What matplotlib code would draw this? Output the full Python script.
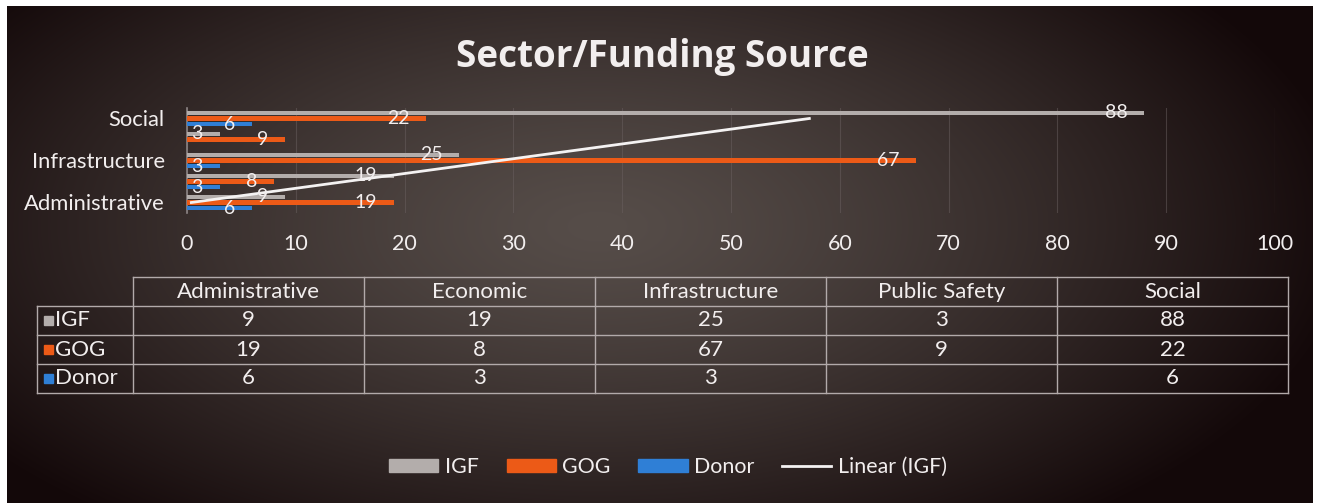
import numpy as np
import matplotlib
matplotlib.use("Agg")
import matplotlib.pyplot as plt
from matplotlib.patches import Patch, Rectangle
from matplotlib.lines import Line2D

plt.rcParams["font.family"] = ["Lato", "DejaVu Sans"]

# ── data ─────────────────────────────────────────────────────────────
sectors = ["Administrative", "Economic", "Infrastructure", "Public Safety", "Social"]
series = ["IGF", "GOG", "Donor"]
igf = [9, 19, 25, 3, 88]
gog = [19, 8, 67, 9, 22]
donor = [6, 3, 3, None, 6]
x_ticks = list(range(0, 101, 10))

COLORS = {"IGF": "#b3adab", "GOG": "#ec5a17", "Donor": "#2f7fd6"}
TXT = "#f2eeee"
W, H = 1325, 503

fig = plt.figure(figsize=(W / 100, H / 100), dpi=100)
fig.patch.set_facecolor("white")

# ── background: dark radial gradient ─────────────────────────────────
bg = fig.add_axes([7 / W, 0, (1313 - 7) / W, (H - 6) / H])
bg.axis("off")
yy, xx = np.mgrid[0:497, 0:1306]
d = np.sqrt(((xx - 590) / 760.0) ** 2 + ((yy - 220) / 380.0) ** 2)
d = np.clip(d, 0, 1)
c_in = np.array([0x56, 0x4d, 0x49]) / 255
c_out = np.array([0x13, 0x08, 0x09]) / 255
t = d[..., None] ** 1.3
img = c_in * (1 - t) + c_out * t
bg.imshow(img, aspect="auto", interpolation="bilinear")

# ── bar chart ────────────────────────────────────────────────────────
ax = fig.add_axes([187 / W, 1 - 213 / H, 1088 / W, 105 / H])
ax.set_facecolor("none")
pos = np.arange(len(sectors))
off = 0.28
bh = 0.2
for vals, o, name in [(igf, off, "IGF"), (gog, 0, "GOG"), (donor, -off, "Donor")]:
    for p, v in zip(pos, vals):
        if v is None:
            continue
        ax.barh(p + o, v, height=bh, color=COLORS[name], zorder=3)
        ax.annotate(str(v), xy=(v, p + o), xytext=(-12, 0), textcoords="offset points",
                    ha="right", va="center", color=TXT, fontsize=14, zorder=5)

# linear trendline for IGF
k, b = np.polyfit(pos, igf, 1)
ax.plot(k * pos + b, pos, color="#f4f2f2", lw=2, zorder=4)

ax.set_xlim(0, 100)
ax.set_ylim(-0.5, 4.5)
ax.set_xticks(x_ticks)
ax.set_xticklabels([str(v) for v in x_ticks])
ax.set_yticks(pos[::2])
ax.set_yticklabels(sectors[::2])
ax.tick_params(axis="y", length=0, pad=16, labelsize=15.8, labelcolor=TXT)
ax.tick_params(axis="x", length=0, pad=15, labelsize=15.4, labelcolor=TXT)
ax.grid(axis="x", color="#6a6060", lw=0.8, alpha=0.5, zorder=0)
for s in ["top", "right", "bottom"]:
    ax.spines[s].set_visible(False)
ax.spines["left"].set_color("#8c8484")
ax.spines["left"].set_linewidth(1.2)

# ── title ────────────────────────────────────────────────────────────
fig.text(662 / W, 1 - 57 / H, "Sector/Funding Source", ha="center", va="center",
         fontsize=26.5, fontweight="bold", color=TXT, family=["Open Sans", "DejaVu Sans"])

# ── data table (pixel coordinates overlay) ───────────────────────────
ov = fig.add_axes([0, 0, 1, 1])
ov.set_xlim(0, W)
ov.set_ylim(H, 0)
ov.axis("off")
ov.patch.set_alpha(0)

LC = "#b2aaaa"
col_x = [133, 364, 595, 826, 1057, 1288]
row_y = [277, 306, 335, 364, 393]
ov.plot([133, 1288], [277, 277], color=LC, lw=1)
for y in row_y[1:]:
    ov.plot([37, 1288], [y, y], color=LC, lw=1)
for x in col_x:
    ov.plot([x, x], [277, 393], color=LC, lw=1)
ov.plot([37, 37], [306, 393], color=LC, lw=1)

FS_T = 16
for i, name in enumerate(sectors):
    cx = (col_x[i] + col_x[i + 1]) / 2
    ov.text(cx, 292, name, ha="center", va="center", color=TXT, fontsize=FS_T)
for r, (name, vals) in enumerate(zip(series, [igf, gog, donor])):
    cy = (row_y[r + 1] + row_y[r + 2]) / 2
    ov.add_patch(Rectangle((44, cy - 4.5), 9, 9, color=COLORS[name]))
    ov.text(55, cy, name, ha="left", va="center", color=TXT, fontsize=FS_T)
    for i, v in enumerate(vals):
        if v is None:
            continue
        cx = (col_x[i] + col_x[i + 1]) / 2
        ov.text(cx, cy, str(v), ha="center", va="center", color=TXT, fontsize=FS_T)

# ── legend ───────────────────────────────────────────────────────────
handles = [Patch(color=COLORS[n]) for n in series] + [Line2D([], [], color="#f4f2f2", lw=2)]
labels = series + ["Linear (IGF)"]
leg = fig.legend(handles, labels, loc="center", bbox_to_anchor=(668 / W, 1 - 467 / H),
                 ncol=4, frameon=False, fontsize=15.4, handlelength=2.3, handleheight=0.5,
                 handletextpad=0.3, columnspacing=1.3)
for t_ in leg.get_texts():
    t_.set_color(TXT)

fig.savefig("out.png", dpi=100)
